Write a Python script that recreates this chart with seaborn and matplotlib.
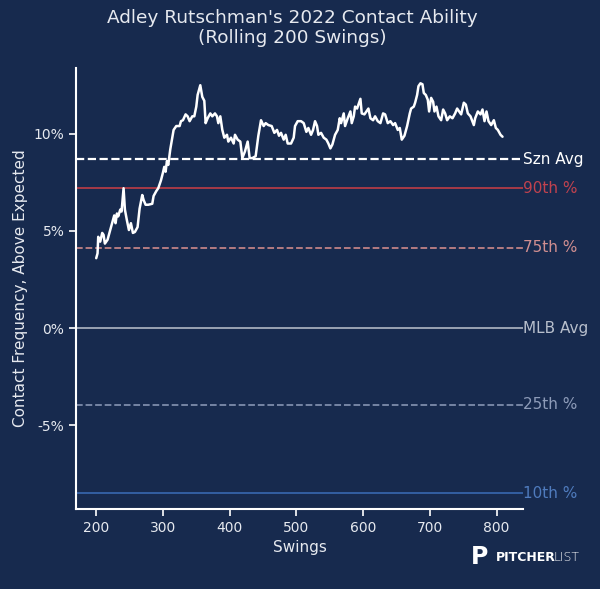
import seaborn as sns
import numpy as np
import pandas as pd
import matplotlib.pyplot as plt
from matplotlib.ticker import FuncFormatter

# rolling contact rate (% above expected)
swings = [200, 202, 203, 206, 209, 211, 213, 217, 221, 225, 227, 229, 231, 233,
          236, 238, 241, 243, 246, 249, 252, 255, 258, 262, 265, 269, 271, 274,
          278, 284, 286, 290, 293, 297, 300, 302, 304, 306, 308, 311, 314, 316,
          320, 325, 327, 330, 334, 337, 340, 344, 347, 350, 352, 356, 359, 362,
          364, 367, 371, 374, 378, 381, 383, 386, 389, 392, 396, 398, 402, 406,
          408, 412, 416, 419, 423, 427, 430, 434, 439, 443, 447, 451, 454, 458,
          463, 467, 471, 474, 477, 481, 484, 487, 492, 496, 498, 502, 507, 511,
          515, 518, 522, 525, 528, 531, 533, 537, 541, 545, 548, 551, 554, 558,
          562, 565, 567, 571, 573, 577, 581, 583, 586, 588, 591, 593, 596, 598,
          602, 605, 608, 611, 615, 618, 622, 626, 630, 633, 637, 641, 645, 648,
          652, 655, 658, 662, 666, 670, 672, 676, 678, 681, 683, 686, 689, 691,
          694, 697, 699, 702, 705, 707, 710, 713, 717, 720, 723, 726, 730, 734,
          738, 741, 744, 747, 751, 754, 757, 761, 766, 768, 772, 776, 779, 782,
          785, 788, 792, 796, 799, 802, 806, 809]
contact = [3.6, 3.85, 4.7, 4.45, 4.9, 4.8, 4.35, 4.55, 5.05, 5.55, 5.8, 5.4, 5.9, 5.75,
           6.1, 6.0, 7.2, 6.1, 5.55, 5.05, 5.4, 4.9, 4.95, 5.2, 6.15, 6.85, 6.6, 6.35,
           6.35, 6.4, 6.8, 7.05, 7.2, 7.6, 8.0, 8.3, 8.05, 8.6, 8.4, 9.2, 9.8, 10.2,
           10.4, 10.4, 10.65, 10.7, 11.0, 10.9, 10.65, 10.9, 10.9, 11.4, 12.0, 12.5, 11.9, 11.7,
           10.55, 10.8, 11.05, 10.9, 11.05, 10.9, 10.55, 10.9, 10.2, 9.8, 9.95, 9.6, 9.8, 9.5,
           9.95, 9.7, 9.6, 8.75, 9.1, 9.6, 8.75, 8.75, 8.85, 9.9, 10.7, 10.4, 10.55, 10.45,
           10.4, 10.05, 10.2, 9.9, 10.05, 9.7, 9.95, 9.5, 9.5, 9.8, 10.4, 10.65, 10.65, 10.55,
           10.1, 10.3, 9.95, 10.2, 10.65, 10.4, 9.95, 10.05, 9.8, 9.7, 9.5, 9.25, 9.45, 9.95,
           10.2, 10.8, 10.55, 11.05, 10.4, 10.8, 11.15, 10.55, 10.9, 11.4, 11.3, 11.5, 11.8, 11.05,
           11.0, 11.15, 11.3, 10.8, 10.7, 10.9, 10.65, 10.55, 11.05, 11.0, 10.55, 10.65, 10.45, 10.55,
           10.2, 10.3, 9.7, 9.9, 10.4, 11.05, 11.3, 11.4, 11.6, 12.0, 12.45, 12.6, 12.55, 12.1,
           12.0, 11.75, 11.15, 11.85, 11.65, 11.15, 11.4, 10.9, 10.7, 11.25, 11.05, 10.7, 10.9, 10.8,
           11.05, 11.3, 11.15, 11.0, 11.6, 11.5, 11.05, 10.9, 10.45, 10.8, 11.15, 11.0, 11.25, 10.65,
           11.15, 10.65, 10.45, 10.7, 10.3, 10.2, 9.95, 9.85]

# reference lines
ref_names = ["Szn Avg", "90th %", "75th %", "MLB Avg", "25th %", "10th %"]
ref_values = [8.7, 7.2, 4.15, 0.0, -3.95, -8.5]
ref_colors = ["#ffffff", "#b23b47", "#c08286", "#a4acbb", "#7d8cab", "#3563a8"]
ref_text_colors = ["#ffffff", "#c0424e", "#d08e90", "#b8bfcc", "#8d9bb8", "#4f7bbd"]
ref_styles = ["--", "-", "--", "-", "--", "-"]

bg = "#172a4e"
sns.set_style("ticks")
plt.rcParams['font.family'] = ['DejaVu Sans']

fig = plt.figure(figsize=(6, 5.89), dpi=100, facecolor=bg)
ax = fig.add_axes([0.127, 0.136, 0.745, 0.749])
ax.set_facecolor(bg)

for name, val, col, tcol, ls in zip(ref_names, ref_values, ref_colors, ref_text_colors, ref_styles):
    lw = 1.6 if name == "Szn Avg" else 1.3
    ax.axhline(val, color=col, ls=ls, lw=lw, zorder=1)
    ax.text(1.0, val, name, transform=ax.get_yaxis_transform(), color=tcol,
            fontsize=11, va="center", ha="left")

df = pd.DataFrame({"swings": swings, "contact": contact})
sns.lineplot(data=df, x="swings", y="contact", color="white", lw=1.8, ax=ax, zorder=3)

ax.set_xlim(170, 840)
ax.set_ylim(-9.3, 13.4)
ax.set_xticks([200, 300, 400, 500, 600, 700, 800])
ax.set_yticks([-5, 0, 5, 10])
ax.yaxis.set_major_formatter(FuncFormatter(lambda v, p: f"{v:.0f}%"))

sns.despine(ax=ax)
for s in ["left", "bottom"]:
    ax.spines[s].set_color("white")
    ax.spines[s].set_linewidth(1.5)
ax.tick_params(colors="white", labelsize=10, width=1.2, length=5)
for lab in ax.get_xticklabels() + ax.get_yticklabels():
    lab.set_color("#e6e9ef")

ax.set_xlabel("Swings", color="#e6e9ef", fontsize=11)
ax.set_ylabel("Contact Frequency, Above Expected", color="#e6e9ef", fontsize=11)
fig.text(0.487, 0.953, "Adley Rutschman's 2022 Contact Ability\n(Rolling 200 Swings)",
         color="#e6e9ef", fontsize=13.3, ha="center", va="center", linespacing=1.15)

# logo text
fig.text(0.785, 0.054, "P", color="white", fontsize=17, fontweight="bold", va="center")
fig.text(0.826, 0.054, "PITCHER", color="white", fontsize=9, fontweight="bold", va="center")
fig.text(0.922, 0.054, "LIST", color="white", fontsize=9, fontweight="light", va="center")

fig.savefig("out.png", dpi=100, facecolor=bg)
